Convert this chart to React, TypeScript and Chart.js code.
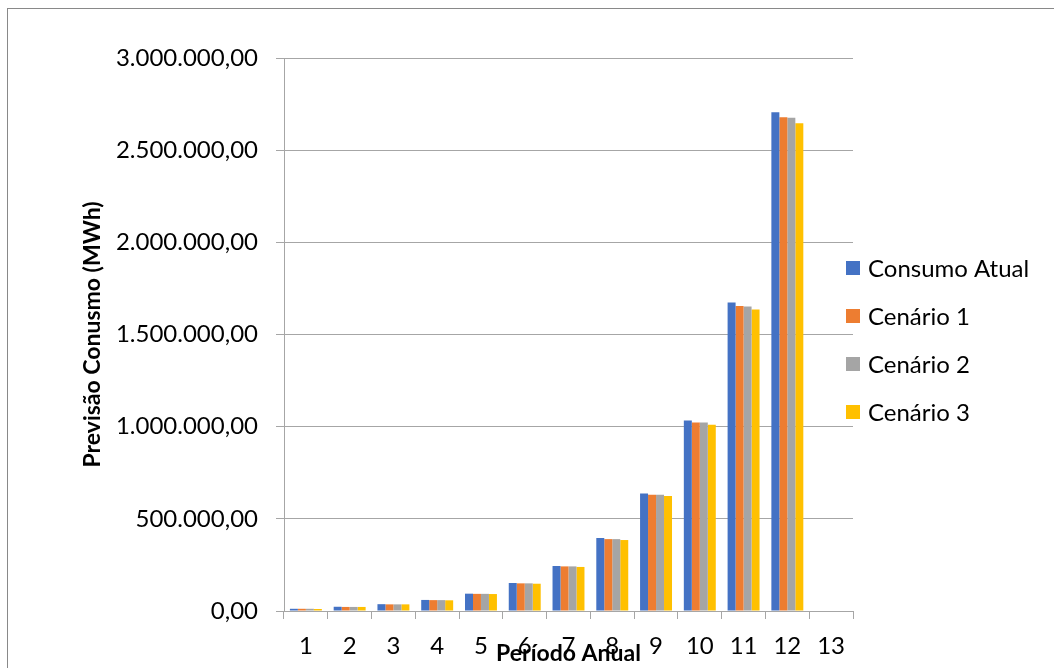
import React, { useEffect, useRef } from "react";
import { Chart, registerables } from "chart.js";

Chart.register(...registerables);

const categories = ["1", "2", "3", "4", "5", "6", "7", "8", "9", "10", "11", "12", "13"];
const seriesNames = ["Consumo Atual", "Cenário 1", "Cenário 2", "Cenário 3"];
const seriesColors = ["#4472C4", "#ED7D31", "#A5A5A5", "#FFC000"];
const consumoAtual = [12000, 23000, 37000, 60000, 94000, 152000, 244000, 396000, 638000, 1034000, 1674000, 2706000, null];
const cenario1 = [12000, 22000, 36000, 59000, 93000, 150000, 242000, 390000, 631000, 1023000, 1654000, 2679000, null];
const cenario2 = [12000, 22000, 36000, 59000, 93000, 150000, 242000, 390000, 630000, 1022000, 1652000, 2676000, null];
const cenario3 = [11000, 22000, 36000, 58000, 92000, 148000, 239000, 385000, 624000, 1010000, 1636000, 2646000, null];
const yMin = 0;
const yMax = 3000000;
const yStep = 500000;
const yTitle = "Previsão Conusmo (MWh)";
const xTitle = "Período Anual";

const FONT = "Lato";
const GRID = "#a6a6a6";

function fmt(v: number): string {
  const s = Math.round(v).toString();
  const withDots = s.replace(/\B(?=(\d{3})+(?!\d))/g, ".");
  return withDots + ",00";
}

const legendPlugin = {
  id: "sideLegend",
  afterDraw(chart: any) {
    const ctx = chart.ctx;
    ctx.save();
    ctx.font = `24px ${FONT}`;
    ctx.textBaseline = "middle";
    ctx.textAlign = "left";
    chart.data.datasets.forEach((ds: any, i: number) => {
      const cy = 268 + i * 48;
      ctx.fillStyle = ds.backgroundColor;
      ctx.fillRect(846, cy - 7, 14, 14);
      ctx.fillStyle = "#000";
      ctx.fillText(ds.label, 868, cy + 1);
    });
    ctx.restore();
  },
};

export default function App() {
  const ref = useRef<HTMLCanvasElement | null>(null);
  useEffect(() => {
    if (!ref.current) return;
    const data = [consumoAtual, cenario1, cenario2, cenario3];
    const chart = new Chart(ref.current, {
      type: "bar",
      data: {
        labels: categories,
        datasets: seriesNames.map((n, i) => ({
          label: n,
          data: data[i],
          backgroundColor: seriesColors[i],
          borderWidth: 0,
          categoryPercentage: 0.73,
          barPercentage: 1.0,
        })),
      },
      plugins: [legendPlugin],
      options: {
        animation: false,
        responsive: false,
        devicePixelRatio: 1,
        layout: { padding: { left: 60, top: 58, right: 201, bottom: 0 } },
        plugins: {
          legend: { display: false },
          tooltip: { enabled: false },
          title: { display: false },
        },
        scales: {
          x: {
            afterFit: (s: any) => {
              s.height = 57;
            },
            grid: {
              offset: true,
              drawOnChartArea: false,
              drawTicks: true,
              tickLength: 8,
              color: GRID,
            },
            border: { display: true, color: GRID },
            ticks: {
              font: { family: FONT, size: 24 },
              color: "#000",
              padding: 13,
              maxRotation: 0,
            },
            title: {
              display: true,
              text: xTitle,
              font: { family: FONT, size: 23, weight: "bold", lineHeight: 1.0 },
              color: "#000",
              padding: { top: 0, bottom: 3 },
            },
          },
          y: {
            min: yMin,
            max: yMax,
            afterFit: (s: any) => {
              s.width = 284 - 60;
            },
            grid: { color: GRID, tickLength: 8, drawTicks: true },
            border: { display: true, color: GRID },
            ticks: {
              stepSize: yStep,
              font: { family: FONT, size: 24 },
              color: "#000",
              padding: 18,
              callback: (v: any) => fmt(Number(v)),
            },
            title: {
              display: true,
              text: yTitle,
              font: { family: FONT, size: 23, weight: "bold", lineHeight: 1.2 },
              color: "#000",
              padding: { top: 19, bottom: 0 },
            },
          },
        },
      },
    });
    return () => chart.destroy();
  }, []);

  return (
    <div
      style={{
        position: "fixed",
        left: 0,
        top: 0,
        width: 1054,
        height: 668,
        overflow: "hidden",
        background: "#fff",
      }}
    >
      <canvas ref={ref} width={1054} height={668} style={{ position: "absolute", left: 0, top: 0, width: 1054, height: 668 }} />
      <div
        style={{
          position: "absolute",
          left: 7,
          top: 8,
          width: 1100,
          height: 700,
          border: "1px solid #898989",
          pointerEvents: "none",
        }}
      />
    </div>
  );
}
